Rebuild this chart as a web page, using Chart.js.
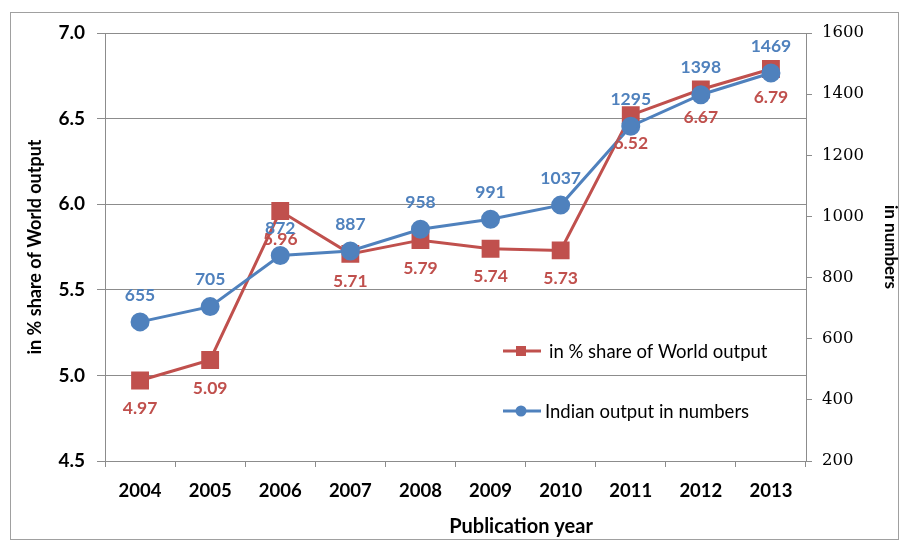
<!DOCTYPE html>
<html>
<head>
<meta charset="utf-8">
<script src="https://cdn.jsdelivr.net/npm/chart.js@4"></script>
<style>
  html, body { margin: 0; padding: 0; background: #fff; }
  canvas { display: block; }
</style>
</head>
<body>
<canvas id="chart" width="902" height="546"></canvas>
<script>
// Publication years and the two series
const years = ['2004', '2005', '2006', '2007', '2008', '2009', '2010', '2011', '2012', '2013'];
const sharePct = [4.97, 5.09, 5.96, 5.71, 5.79, 5.74, 5.73, 6.52, 6.67, 6.79];
const outputCount = [655, 705, 872, 887, 958, 991, 1037, 1295, 1398, 1469];

const RED = '#C0504D';
const BLUE = '#4F81BD';
const FONT = 'Lato, "DejaVu Sans", sans-serif';
const SERIF = '"DejaVu Serif", "Liberation Serif", serif';
const GRID = '#8c8c8c';

// value labels above (blue) / below (red) each point
const valueLabels = {
  id: 'valueLabels',
  afterDatasetsDraw(chart) {
    const ctx = chart.ctx;
    ctx.save();
    ctx.font = 'bold 17.5px ' + FONT;
    ctx.textAlign = 'center';
    ctx.textBaseline = 'middle';
    chart.data.datasets.forEach((ds, i) => {
      const meta = chart.getDatasetMeta(i);
      meta.data.forEach((pt, j) => {
        const v = ds.data[j];
        if (ds.yAxisID === 'y1') {
          ctx.fillStyle = BLUE;
          ctx.fillText(String(v), pt.x, pt.y - 27);
        } else {
          ctx.fillStyle = RED;
          ctx.fillText(v.toFixed(2), pt.x, pt.y + 28);
        }
      });
    });
    ctx.restore();
  }
};

// legend inside the plot, x-axis title and the outer frame
const insideLegend = {
  id: 'insideLegend',
  afterDraw(chart) {
    const ctx = chart.ctx;
    ctx.save();
    ctx.strokeStyle = '#a0a0a0';
    ctx.lineWidth = 1;
    ctx.strokeRect(10.5, 12.5, 888, 527);

    ctx.fillStyle = '#000';
    ctx.font = 'bold 20px ' + FONT;
    ctx.textAlign = 'center';
    ctx.textBaseline = 'middle';
    ctx.fillText('Publication year', 521, 527);

    const items = [
      { text: 'in % share of World output', color: RED, shape: 'rect', y: 351, tx: 549 },
      { text: 'Indian output in numbers', color: BLUE, shape: 'circle', y: 411, tx: 545 }
    ];
    items.forEach(it => {
      ctx.strokeStyle = it.color;
      ctx.lineWidth = 3;
      ctx.beginPath();
      ctx.moveTo(503, it.y);
      ctx.lineTo(541, it.y);
      ctx.stroke();
      ctx.fillStyle = it.color;
      if (it.shape === 'rect') {
        ctx.fillRect(516, it.y - 5, 10, 10);
      } else {
        ctx.beginPath();
        ctx.arc(521, it.y, 5.5, 0, Math.PI * 2);
        ctx.fill();
      }
      ctx.fillStyle = '#000';
      ctx.font = '18.5px ' + FONT;
      ctx.textAlign = 'left';
      ctx.textBaseline = 'middle';
      ctx.fillText(it.text, it.tx, it.y + 1);
    });
    ctx.restore();
  }
};

new Chart(document.getElementById('chart'), {
  type: 'line',
  data: {
    labels: years,
    datasets: [
      {
        label: 'in % share of World output',
        data: sharePct,
        yAxisID: 'y',
        borderColor: RED,
        backgroundColor: RED,
        borderWidth: 3,
        pointStyle: 'rect',
        pointRadius: 10.5,
        tension: 0,
        order: 1
      },
      {
        label: 'Indian output in numbers',
        data: outputCount,
        yAxisID: 'y1',
        borderColor: BLUE,
        backgroundColor: BLUE,
        borderWidth: 3,
        pointStyle: 'circle',
        pointRadius: 8,
        tension: 0,
        order: 0
      }
    ]
  },
  options: {
    responsive: false,
    animation: false,
    layout: { padding: { left: 10, right: 0, top: 33, bottom: 0 } },
    plugins: {
      legend: { display: false },
      tooltip: { enabled: false }
    },
    scales: {
      x: {
        offset: true,
        grid: {
          offset: true,
          drawOnChartArea: false,
          color: GRID,
          tickLength: 6
        },
        border: { color: GRID },
        ticks: {
          color: '#000',
          font: { family: FONT, size: 18.5, weight: 'bold' },
          padding: 13,
          maxRotation: 0
        },
        afterFit(s) { s.height = 85; }
      },
      y: {
        position: 'left',
        min: 4.5,
        max: 7.0,
        grid: { color: GRID, tickLength: 8 },
        border: { color: GRID },
        ticks: {
          stepSize: 0.5,
          color: '#000',
          padding: 12,
          font: { family: FONT, size: 19, weight: 'bold' },
          callback: v => v.toFixed(1)
        },
        title: {
          display: true,
          text: 'in % share of World output',
          color: '#000',
          font: { family: FONT, size: 18, weight: 'bold' },
          padding: { top: 14, bottom: 0 }
        },
        afterFit(s) { s.width = 95; }
      },
      y1: {
        position: 'right',
        min: 200,
        max: 1600,
        grid: { drawOnChartArea: false, color: GRID, tickLength: 6 },
        border: { color: GRID },
        ticks: {
          stepSize: 200,
          color: '#000',
          padding: 10,
          font: { family: SERIF, size: 16.5 },
          callback: v => String(v)
        },
        title: {
          display: true,
          text: 'in numbers',
          color: '#000',
          font: { family: FONT, size: 17, weight: 'bold' },
          padding: { top: 1, bottom: 0 }
        },
        afterFit(s) { s.width = 96; }
      }
    }
  },
  plugins: [valueLabels, insideLegend]
});
</script>
</body>
</html>
